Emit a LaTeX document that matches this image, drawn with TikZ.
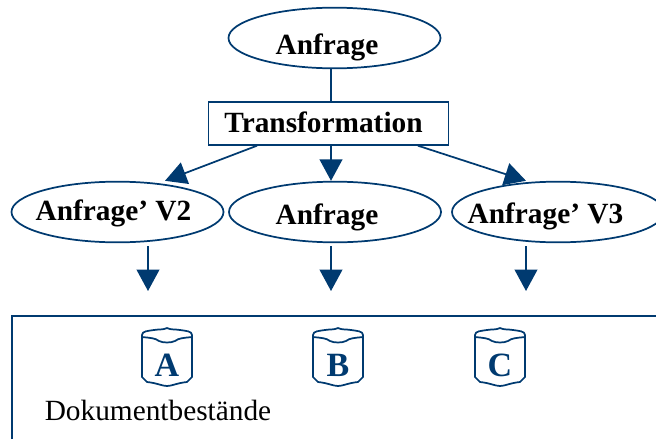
\documentclass[tikz,border=0pt]{standalone}
\usepackage{fontspec}
\setmainfont{Liberation Serif}
\usetikzlibrary{arrows.meta}
\usetikzlibrary{shapes.geometric}
\definecolor{navy}{RGB}{0,58,112}
\tikzset{
	line/.style={draw=navy,line width=1.3pt},
	flow/.style={line,-{Triangle[length=16pt,width=17pt]}},
	query/.style={shape=ellipse,line,minimum width=159pt,minimum height=45.5pt,inner sep=0pt},
	title/.style={font=\fontsize{22pt}{24pt}\selectfont\bfseries,inner sep=0pt,anchor=base},
	letter/.style={font=\fontsize{25.5pt}{30pt}\selectfont\bfseries,text=navy,inner sep=0pt,anchor=base},
}
\newcommand{\drawstore}[3]{
	\draw[line,shift={#1},line join=round] (-25,7) .. controls (-25,3) and (-19,3) .. (-13,2) .. controls (-7,1) and (-4,2) .. (0,0) .. controls (4,2) and (7,1) .. (13,2) .. controls (19,3) and (25,3) .. (25,7) -- (25,49) -- (20,54) .. controls (10,55) and (5,58) .. (0,58) .. controls (-5,58) and (-10,55) .. (-20,54) -- (-25,49) -- cycle;
	\draw[line,shift={#1}] (-25,9) .. controls (-16,10) and (-12,10) .. (-8,13) .. controls (-4,15) and (4,15) .. (8,13) .. controls (12,10) and (16,10) .. (25,9);
	\path[shift={#1}] (0,48.5) node (#2) [letter] {#3};
}
\begin{document}
\begin{tikzpicture}[x=0.75pt,y=-0.75pt]
	\useasboundingbox (0,0) rectangle (656,439);
	\node (q) at (334.5,38) [query] {};
	\node (qt) at (327,54) [title] {Anfrage};
	\node (trans) at (328.5,123.5) [shape=rectangle,line,minimum width=180pt,minimum height=32pt,inner sep=0pt] {};
	\node (transt) at (323.5,132) [title] {Transformation};
	\node (v2) at (117.5,212) [query] {};
	\node (v2t) at (113.5,220.5) [title] {Anfrage’ V2};
	\node (v1) at (335,212) [query] {};
	\node (v1t) at (327,224) [title] {Anfrage};
	\node (v3) at (558,212) [query] {};
	\node (v3t) at (545.5,223) [title] {Anfrage’ V3};
	% connectors
	\draw[line] (q.south -| 331,0) -- (trans.north -| 331,0);
	\draw[flow] (trans.south -| 257,0) -- (v2.north -| 165,0);
	\draw[flow] (trans.south -| 331,0) -- (v1.north -| 331,0);
	\draw[flow] (trans.south -| 418,0) -- (v3.north -| 526,0);
	\foreach \i/\x in {v2/148,v1/331,v3/526} {
		\coordinate (b\i) at (\x,246);
		\coordinate (e\i) at (\x,291);
		\draw[flow] (b\i) -- (e\i);
	}
	% bestaende
	\coordinate (boxb) at (12,439);
	\coordinate (boxt) at (12,316);
	\coordinate (boxr) at (656,316);
	\draw[line] (boxb) -- (boxt) -- (boxr);
	\foreach \x/\n in {167/A,338/B,500/C} \drawstore{(\x,328)}{s\n}{\n};
	\node (docs) at (158,420) [font=\fontsize{22pt}{24pt}\selectfont,inner sep=0pt,anchor=base] {Dokumentbestände};
\end{tikzpicture}
\end{document}
